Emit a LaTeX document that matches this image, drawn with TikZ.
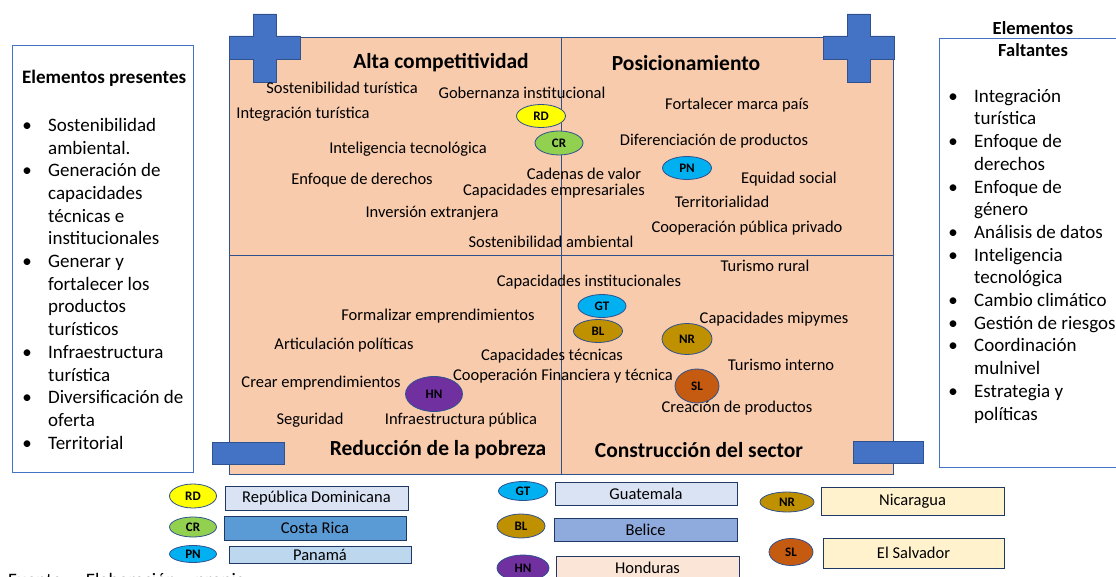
\documentclass[tikz,border=0pt]{standalone}
\usepackage{fontspec}
\setmainfont{Carlito}
\usetikzlibrary{shapes.geometric}
\definecolor{durazno}{HTML}{F8CBAD}
\definecolor{azul}{HTML}{4472C4}
\definecolor{azuloscuro}{HTML}{2F528F}
\definecolor{marino}{HTML}{203864}
\definecolor{amarillo}{HTML}{FFFF00}
\definecolor{verde}{HTML}{92D050}
\definecolor{celeste}{HTML}{00B0F0}
\definecolor{ocre}{HTML}{BF9000}
\definecolor{morado}{HTML}{7030A0}
\definecolor{naranja}{HTML}{C55A11}
\definecolor{grisazul}{HTML}{DAE3F3}
\definecolor{azulmedio}{HTML}{5B9BD5}
\definecolor{azulclaro}{HTML}{BDD7EE}
\definecolor{lavanda}{HTML}{8FAADC}
\definecolor{rosado}{HTML}{FBE5D6}
\definecolor{crema}{HTML}{FFF2CC}
\newcommand\vineta{\makebox[25.75pt][l]{\textbullet}}
\newcommand\sangria{\hspace*{25.75pt}}
\begin{document}
\begin{tikzpicture}[x=1pt,y=-1pt,
	etiq/.style={inner sep=0pt,text height=0.72em,text depth=0.2em,font=\fontsize{16.5}{18}\selectfont},
	cuadrante/.style={inner sep=0pt,font=\bfseries\fontsize{21.5}{23}\selectfont},
	pais/.style={ellipse,draw=azuloscuro,line width=0.8pt,inner sep=0pt,font=\bfseries\fontsize{13}{13}\selectfont},
	caja/.style={draw=marino,line width=1pt,inner sep=0pt,font=\fontsize{16.5}{16.5}\selectfont},
	signo/.style={fill=azul,draw=azuloscuro,line width=0.8pt},
	panel/.style={draw=azul,line width=0.8pt},
	lista/.style={anchor=north west,inner sep=0pt,align=left,font=\fontsize{19}{22.7}\selectfont}]
\useasboundingbox (0,0) rectangle (1116,577);
% cuadro principal
\draw[azuloscuro,line width=1pt,fill=durazno] (229,38) rectangle (893,474);
\draw[azuloscuro,line width=1pt] (561,38) -- (561,474) (229,256) -- (893,256);
% signos
\foreach \dx in {0,594}
	\draw[signo] (253+\dx,14) -- (276+\dx,14) -- (276+\dx,36) -- (300+\dx,36) -- (300+\dx,59)
		-- (276+\dx,59) -- (276+\dx,82) -- (253+\dx,82) -- (253+\dx,59) -- (229+\dx,59)
		-- (229+\dx,36) -- (253+\dx,36) -- cycle;
\draw[signo] (212,442) rectangle (284,464);
\draw[signo] (853,441) rectangle (923,463);
% titulos de cuadrantes
\node[cuadrante] (alta) at (441,63) {Alta competitividad};
\node[cuadrante] (posic) at (686,63) {Posicionamiento};
\node[cuadrante] (pobreza) at (438,450) {Reducción de la pobreza};
\node[cuadrante] (sector) at (699,450) {Construcción del sector};
% elementos
\node[etiq] (sostur) at (342,91) {Sostenibilidad turística};
\node[etiq] (gober) at (522,96) {Gobernanza institucional};
\node[etiq] (integ) at (303,116) {Integración turística};
\node[etiq] (marca) at (737,107) {Fortalecer marca país};
\node[etiq] (difer) at (714,143) {Diferenciación de productos};
\node[etiq] (intel) at (408,151) {Inteligencia tecnológica};
\node[etiq] (enfoque) at (362,182) {Enfoque de derechos};
\node[etiq] (cadenas) at (584,177) {Cadenas de valor};
\node[etiq] (capemp) at (554,193) {Capacidades empresariales};
\node[etiq] (equidad) at (789,181) {Equidad social};
\node[etiq] (territ) at (722,205) {Territorialidad};
\node[etiq] (invers) at (432,215) {Inversión extranjera};
\node[etiq] (cooppp) at (747,230) {Cooperación pública privado};
\node[etiq] (sosamb) at (551,245) {Sostenibilidad ambiental};
\node[etiq] (rural) at (765,269) {Turismo rural};
\node[etiq] (capins) at (589,284) {Capacidades institucionales};
\node[etiq] (formal) at (438,318) {Formalizar emprendimientos};
\node[etiq] (mipymes) at (774,321) {Capacidades mipymes};
\node[etiq] (articul) at (344,347) {Articulación políticas};
\node[etiq] (captec) at (552,358) {Capacidades técnicas};
\node[etiq] (interno) at (781,368) {Turismo interno};
\node[etiq] (crear) at (321,385) {Crear emprendimientos};
\node[etiq] (coopfin) at (563,378) {Cooperación Financiera y técnica};
\node[etiq] (creac) at (737,410) {Creación de productos};
\node[etiq] (segur) at (310,422) {Seguridad};
\node[etiq] (infra) at (461,422) {Infraestructura pública};
% paises en el cuadro
\node[pais,fill=amarillo,minimum width=49pt,minimum height=23pt] (rd) at (541,116) {RD};
\node[pais,fill=verde,minimum width=48pt,minimum height=24pt] (cr) at (559,143) {CR};
\node[pais,fill=celeste,minimum width=49pt,minimum height=23pt] (pn) at (687,168) {PN};
\node[pais,fill=celeste,minimum width=48pt,minimum height=23pt] (gt) at (602,306) {GT};
\node[pais,fill=ocre,minimum width=49pt,minimum height=23pt] (bl) at (598,331) {BL};
\node[pais,fill=ocre,minimum width=50pt,minimum height=31pt] (nr) at (687,339) {NR};
\node[pais,fill=morado,minimum width=57pt,minimum height=35pt] (hn) at (434,394) {HN};
\node[pais,fill=naranja,minimum width=44pt,minimum height=34pt] (sl) at (697,386) {SL};
% leyenda
\node[pais,fill=amarillo,minimum width=47pt,minimum height=24pt] (lrd) at (193,496) {RD};
\node[pais,fill=verde,minimum width=47pt,minimum height=20pt] (lcr) at (193,527) {CR};
\node[pais,fill=celeste,minimum width=47pt,minimum height=17pt] (lpn) at (193,554) {PN};
\node[pais,fill=celeste,minimum width=49pt,minimum height=19pt] (lgt) at (523,491) {GT};
\node[pais,fill=ocre,minimum width=48pt,minimum height=24pt] (lbl) at (521,526) {BL};
\node[pais,fill=morado,minimum width=52pt,minimum height=26pt] (lhn) at (523,568) {HN};
\node[pais,fill=ocre,minimum width=54pt,minimum height=20pt] (lnr) at (787,502) {NR};
\node[pais,fill=naranja,minimum width=44pt,minimum height=27pt] (lsl) at (791,552) {SL};
\node[caja,fill=grisazul,minimum width=183pt,minimum height=24pt] (nrd) at (316.5,498) {República Dominicana};
\node[caja,fill=azulmedio,minimum width=182pt,minimum height=24pt] (ncr) at (315,528) {Costa Rica};
\node[caja,fill=azulclaro,minimum width=182pt,minimum height=17pt] (npn) at (320,554.5) {Panamá};
\node[caja,fill=grisazul,minimum width=182pt,minimum height=23pt] (ngt) at (646,493.5) {Guatemala};
\node[caja,fill=lavanda,minimum width=183pt,minimum height=23pt] (nbl) at (645.5,529.5) {Belice};
\node[caja,fill=rosado,minimum width=183pt,minimum height=24pt] (nhn) at (647.5,568) {Honduras};
\node[caja,fill=crema,minimum width=183pt,minimum height=28pt] (nnr) at (912.5,501) {Nicaragua};
\node[caja,fill=crema,minimum width=181pt,minimum height=30pt] (nsl) at (913.5,553) {El Salvador};
% paneles laterales
\draw[panel] (12,45) rectangle (193,472);
\node[anchor=west,inner sep=0pt,font=\bfseries\fontsize{19}{22}\selectfont] (presentes) at (22,78) {Elementos presentes};
\node[lista] (lpres) at (22.25,118) {\vineta Sostenibilidad\\\sangria ambiental.\\
	\vineta Generación de\\\sangria capacidades\\\sangria técnicas e\\\sangria institucionales\\
	\vineta Generar y\\\sangria fortalecer los\\\sangria productos\\\sangria turísticos\\
	\vineta Infraestructura\\\sangria turística\\
	\vineta Diversificación de\\\sangria oferta\\
	\vineta Territorial};
\draw[panel] (939,38) rectangle (1122,467);
\node[align=center,inner sep=0pt,font=\bfseries\fontsize{18.5}{22}\selectfont] (faltantes) at (1033,39) {Elementos\\Faltantes};
\node[lista] (lfalt) at (948.25,89) {\vineta Integración\\\sangria turística\\
	\vineta Enfoque de\\\sangria derechos\\
	\vineta Enfoque de\\\sangria género\\
	\vineta Análisis de datos\\
	\vineta Inteligencia\\\sangria tecnológica\\
	\vineta Cambio climático\\
	\vineta Gestión de riesgos\\
	\vineta Coordinación\\\sangria mulnivel\\
	\vineta Estrategia y\\\sangria políticas};
\node[anchor=base west,inner sep=0pt,font=\fontsize{19}{22}\selectfont] (fuente) at (8,586) {Fuente:\quad Elaboración\quad propia};
\end{tikzpicture}
\end{document}
